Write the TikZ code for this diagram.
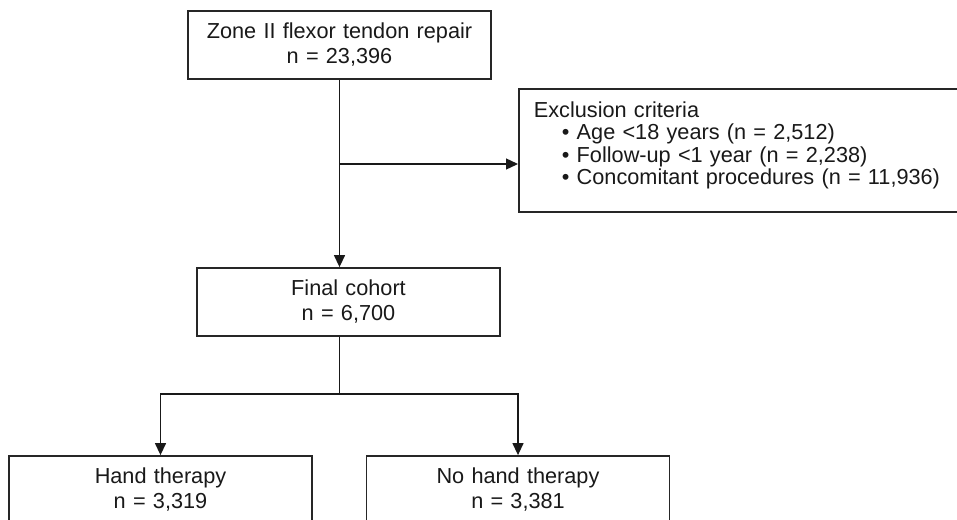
\documentclass[tikz,border=0pt]{standalone}
\usepackage{fontspec}
\setmainfont{Liberation Sans}
\usetikzlibrary{positioning, arrows.meta}

\begin{document}
\begin{tikzpicture}[x=1pt, y=-1pt,
     node distance = 3mm and 3mm,
        box/.style = {rectangle, draw=black!85, line width=1.8pt, fill=white,
                     text=black!90, minimum width=303pt, minimum height=68pt,
                     inner sep=0pt, text width=290pt, align=center,
                     font=\fontsize{21.7}{25}\selectfont},
       line/.style = {line width=1.3pt, black!90},
        arr/.style = {line, -{Triangle[length=12pt, width=11pt]}}
                        ]
\useasboundingbox (0,0) rectangle (957,519);
\clip (0,0) rectangle (957,519);
\node (zone) [box] at (339.5,45) {Zone II flexor tendon repair\\n = 23,396};
\node (excl) [box, anchor=north west, minimum width=0pt, minimum height=0pt,
              text width=430pt, align=left, inner xsep=15pt, inner ysep=12.5pt,
              font=\fontsize{21.7}{22.5}\selectfont] at (518,88)
      {Exclusion criteria\\
       \hspace*{28pt}\textbullet\ Age \textless18 years (n = 2,512)\\
       \hspace*{28pt}\textbullet\ Follow-up \textless1 year (n = 2,238)\\
       \hspace*{28pt}\textbullet\ Concomitant procedures (n = 11,936)\rule[-15pt]{0pt}{1pt}};
\node (final) [box] at (348.5,302) {Final cohort\\n = 6,700};
\node (hand) [box] at (160.5,490) {Hand therapy\\n = 3,319};
\node (nohand) [box] at (518,490) {No hand therapy\\n = 3,381};
\coordinate (split) at (zone.south |- 0,164);
\coordinate (fork) at (zone.south |- 0,394);
\draw[arr] (zone) -- (zone.south |- final.north);
\draw[arr] (split) -- (split -| excl.west);
\draw[line] (zone.south |- final.south) -- (fork);
\draw[arr] (fork) -| (hand);
\draw[arr] (fork) -| (nohand);
\end{tikzpicture}
\end{document}
